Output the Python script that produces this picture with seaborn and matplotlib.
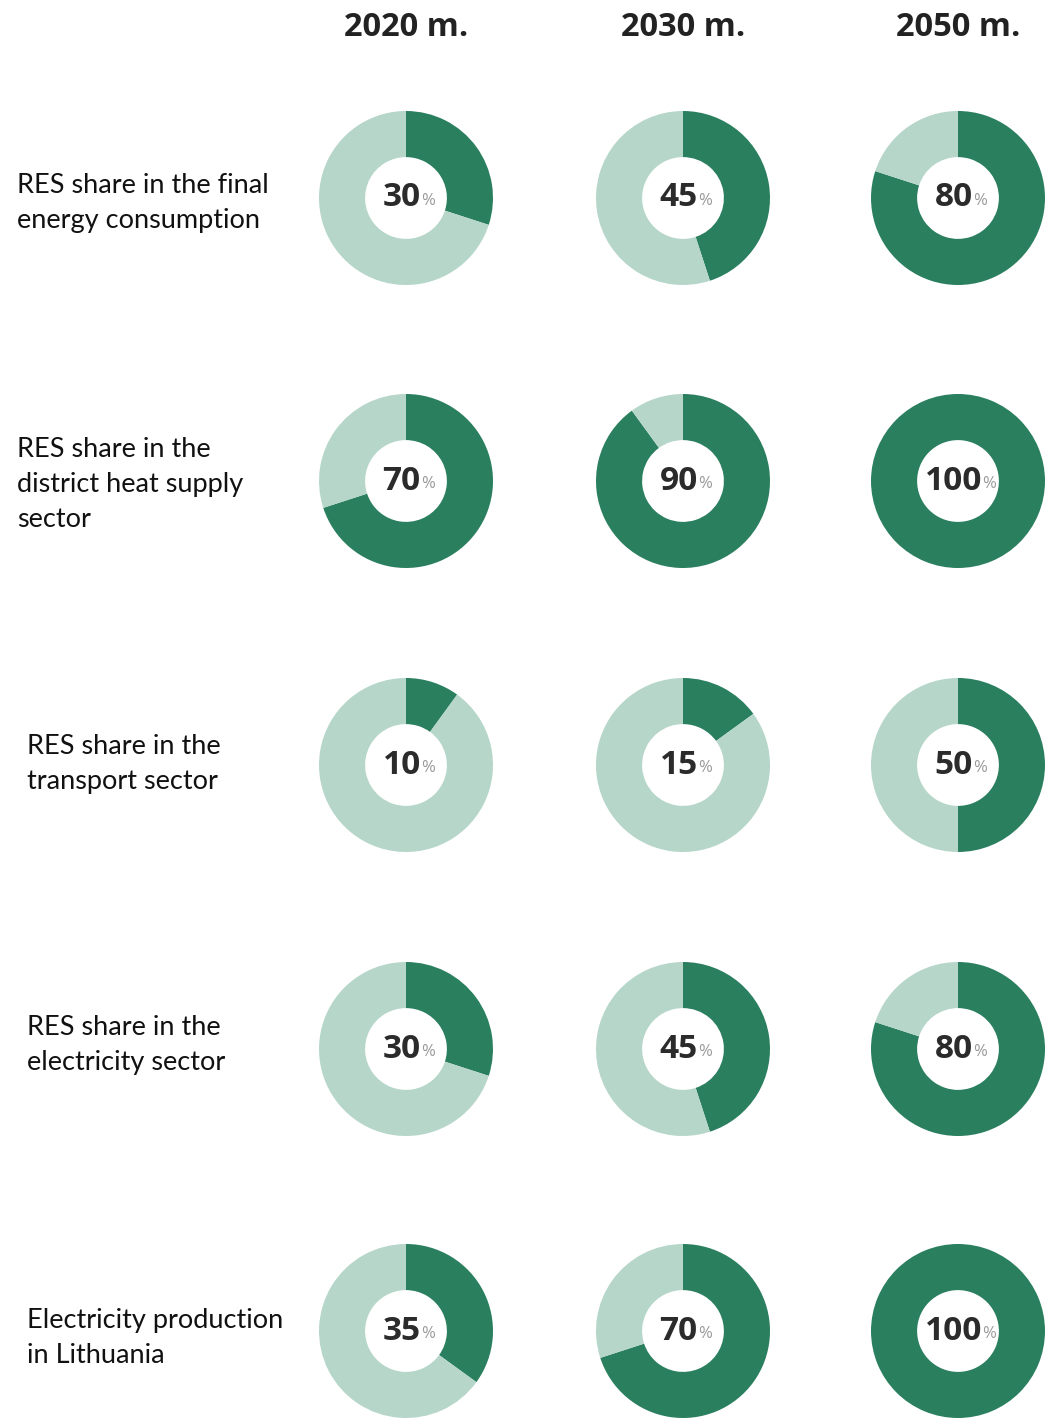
import seaborn as sns
import matplotlib.pyplot as plt

sns.set_theme(style="white")
plt.rcParams['font.family'] = ['Open Sans', 'DejaVu Sans']

# chart data
years = ["2020 m.", "2030 m.", "2050 m."]
indicators = [
    "RES share in the final\nenergy consumption",
    "RES share in the\ndistrict heat supply\nsector",
    "RES share in the\ntransport sector",
    "RES share in the\nelectricity sector",
    "Electricity production\nin Lithuania",
]
shares = [
    [30, 45, 80],
    [70, 90, 100],
    [10, 15, 50],
    [30, 45, 80],
    [35, 70, 100],
]

dark = "#2a7f5f"
light = "#b6d6ca"

W, H = 1051, 1426
fig = plt.figure(figsize=(W / 100, H / 100), dpi=100)

col_x = [406, 683, 958]
row_y = [203, 484, 764, 1045, 1338]
label_x = [17, 17, 27, 27, 27]
pie_y = [198, 481, 765, 1049, 1331]
r = 87

for j, yr in enumerate(years):
    fig.text(col_x[j] / W, 1 - 28 / H, yr, ha="center", va="center",
             fontsize=23.5, fontweight="bold", color="#222222")

for i, name in enumerate(indicators):
    fig.text(label_x[i] / W, 1 - row_y[i] / H, name, ha="left", va="center",
             fontsize=19.5, color="#111111", linespacing=1.5, family="Lato")

fig.canvas.draw()
renderer = fig.canvas.get_renderer()

for i in range(len(indicators)):
    for j in range(len(years)):
        v = shares[i][j]
        ax = fig.add_axes([(col_x[j] - r) / W, 1 - (pie_y[i] + r) / H, 2 * r / W, 2 * r / H])
        ax.pie([v, 100 - v], colors=[dark, light], startangle=90, counterclock=False,
               radius=1, wedgeprops=dict(width=0.53, edgecolor="none"))
        ax.set_xlim(-1, 1)
        ax.set_ylim(-1, 1)
        ax.set_aspect("equal")
        ax.axis("off")
        num = ax.text(0, 0, str(v), fontsize=24, fontweight="bold", color="#2b2b2b",
                      ha="left", va="center")
        pct = ax.text(0, 0, "%", fontsize=12, color="#9a9a9a", ha="left", va="center")
        wn = num.get_window_extent(renderer).width
        wp = pct.get_window_extent(renderer).width
        scale = 2.0 / (2 * r)  # data units per pixel
        total = (wn + wp) * scale
        x0 = -total / 2 + 0.03
        num.set_position((x0, 0.0))
        pct.set_position((x0 + wn * scale, -0.03))

fig.savefig("out.png", dpi=100, facecolor="white")
